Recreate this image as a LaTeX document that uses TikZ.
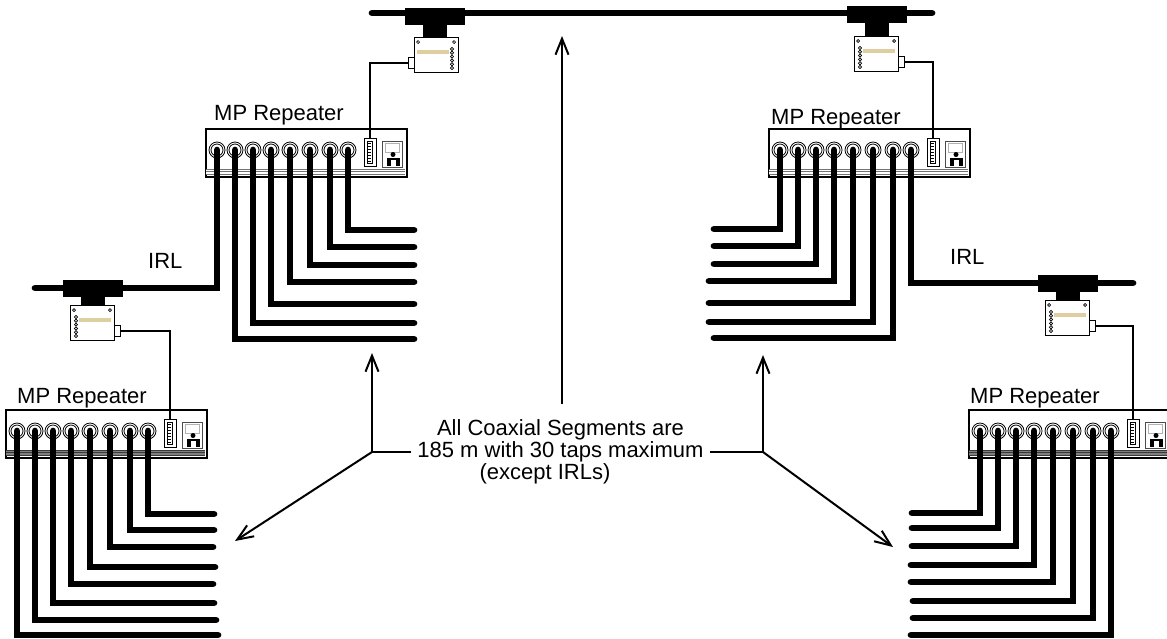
\documentclass[tikz,border=0pt]{standalone}
\usepackage{fontspec}
\setmainfont{Liberation Sans}
\usetikzlibrary{arrows.meta}

\begin{document}
\begin{tikzpicture}[x=1pt,y=-1pt,>={Straight Barb[length=16pt,width=13pt]},
		coax/.style={line width=6.7pt, line cap=round},
		dropline/.style={line width=2pt},
		pointer/.style={line width=2pt},
		lbl/.style={font=\fontsize{22}{22}\selectfont, inner sep=0pt},
		rackbox/.style={draw=black, fill=white, line width=2pt, minimum width=201pt, minimum height=48pt, inner sep=0pt, anchor=north west},
		swbox/.style={draw=black, fill=white, line width=1pt, minimum width=12pt, minimum height=28pt, inner sep=0pt},
		repeater/.pic={
			\node[rackbox] (-box) at (0,0) {};
			\fill[#1] (1,41) rectangle (200,47);
			\foreach \ly in {41,43.5,46}
				\draw[#1!45!black, line width=0.8pt] (1,\ly) -- (200,\ly);
			\foreach \i/\px in {1/12,2/30,3/48,4/66,5/85,6/105,7/125,8/143} {
				\coordinate (-port\i) at (\px,22);
				\draw[line width=0.8pt, fill=white] (\px,22) circle (8pt);
				\draw[line width=0.8pt] (\px,22) circle (6pt);
			}
			\node[swbox] (-sw) at (165,24) {};
			\draw[line width=0.8pt] (162.5,13) rectangle (167.5,35);
			\foreach \ly in {15,18,...,33}
				\draw[line width=0.7pt] (162.5,\ly) -- (166,\ly);
			\draw[draw=black!70, line width=1pt, fill=white] (177,13) rectangle (197,39);
			\draw[draw=black!30, line width=0.7pt] (180,15) rectangle (194,24);
			\fill (188,26.5) circle (2.5pt);
			\fill (182,30) rectangle (195,32);
			\fill (182,30) rectangle (186,38);
			\fill (191,30) rectangle (195,38);
		},
		tap/.pic={
			\draw[line width=1pt, fill=white] (21,#1+20) rectangle (27,#1+31);
			\coordinate (-port) at (27,#1+26);
			\draw[line width=1pt, fill=white] (-23,#1) rectangle (21,#1+35);
			\fill (-30,0) rectangle (30,17);
			\fill (-12,17) rectangle (12,#1+1);
			\fill[tan] (-14,#1+13) rectangle (18,#1+17);
			\foreach \ly in {12,15.8,19.6,23.4,27.2,31}
				\draw[line width=0.7pt] (-17,#1+\ly) circle (1.6pt);
			\draw[line width=0.7pt] (-19,#1+5) circle (1.5pt);
			\draw[line width=0.7pt] (17,#1+5) circle (1.5pt);
		}]
		\definecolor{tan}{RGB}{222,206,160}
		\colorlet{rackgray}{black!50}
		\useasboundingbox (0,0) rectangle (1167,638);

		% segments
		\coordinate (busW) at (372,13);
		\coordinate (busE) at (932,13);
		\draw[coax] (busW) -- (busE);

		\pic (repA) at (205,128) {repeater=white};
		\pic (repB) at (5,409) {repeater=rackgray};
		\pic (repC) at (768,128) {repeater=white};
		\pic (repD) at (968,409) {repeater=rackgray};

		\foreach \i/\ey/\ex in {2/339/414,3/323/414,4/304/414,5/282/414,6/265/414,7/247/414,8/230/414} {
			\coordinate (endA\i) at (\ex,\ey);
			\draw[coax] (repA-port\i) |- (endA\i);
		}
		\foreach \i/\ey/\ex in {1/635/218,2/620/216,3/603/214,4/584/213,5/567/215,6/547/213,7/530/214,8/514/214} {
			\coordinate (endB\i) at (\ex,\ey);
			\draw[coax] (repB-port\i) |- (endB\i);
		}
		\foreach \i/\ey/\ex in {1/229/714,2/246/714,3/264/714,4/281/709,5/303/709,6/322/709,7/338/714} {
			\coordinate (endC\i) at (\ex,\ey);
			\draw[coax] (repC-port\i) |- (endC\i);
		}
		\foreach \i/\ey/\ex in {1/513/912,2/528/912,3/546/912,4/565/911,5/582/911,6/601/913,7/618/913,8/635/911} {
			\coordinate (endD\i) at (\ex,\ey);
			\draw[coax] (repD-port\i) |- (endD\i);
		}

		% inter-repeater links
		\coordinate (irlW) at (35,288);
		\coordinate (irlE) at (1133,283);
		\draw[coax] (repA-port1) |- (irlW);
		\draw[coax] (repC-port8) |- (irlE);

		% taps
		\pic[xscale=-1] (tapA) at (435,8) {tap=29};
		\pic (tapB) at (93,280) {tap=25};
		\pic (tapC) at (877,6) {tap=30};
		\pic (tapD) at (1068,275) {tap=25};
		\draw[dropline] (tapA-port) -| (repA-sw.north);
		\draw[dropline] (tapB-port) -| (repB-sw.north);
		\draw[dropline] (tapC-port) -| (repC-sw.north);
		\draw[dropline] (tapD-port) -| (repD-sw.north);

		% labels
		\node[lbl, anchor=base west] (nameA) at (214,120) {MP Repeater};
		\node[lbl, anchor=base west] (nameB) at (17,403) {MP Repeater};
		\node[lbl, anchor=base west] (nameC) at (771,124) {MP Repeater};
		\node[lbl, anchor=base west] (nameD) at (970,403) {MP Repeater};
		\node[lbl, anchor=base west] (irlAtxt) at (148,268) {IRL};
		\node[lbl, anchor=base west] (irlCtxt) at (950,264) {IRL};

		% note with its arrows
		\node[lbl, align=center, inner xsep=6pt] (note) at (560.5,452) {All Coaxial Segments are\\185 m with 30 taps maximum\\\hspace*{-31pt}(except IRLs)};
		\coordinate (hubL) at (372,452);
		\coordinate (hubR) at (763,452);
		\coordinate (noteTop) at (562,404);
		\coordinate (tipTop) at (562,36);
		\coordinate (tipLup) at (372,353);
		\coordinate (tipRup) at (763,355);
		\coordinate (tipLdn) at (235,541);
		\coordinate (tipRdn) at (893,547);
		\draw[pointer,->] (noteTop) -- (tipTop);
		\draw[pointer] (note.west) -- (hubL);
		\draw[pointer] (note.east) -- (hubR);
		\draw[pointer,->] (hubL) -- (tipLup);
		\draw[pointer,->] (hubR) -- (tipRup);
		\draw[pointer,->] (hubL) -- (tipLdn);
		\draw[pointer,->] (hubR) -- (tipRdn);
	\end{tikzpicture}
\end{document}
